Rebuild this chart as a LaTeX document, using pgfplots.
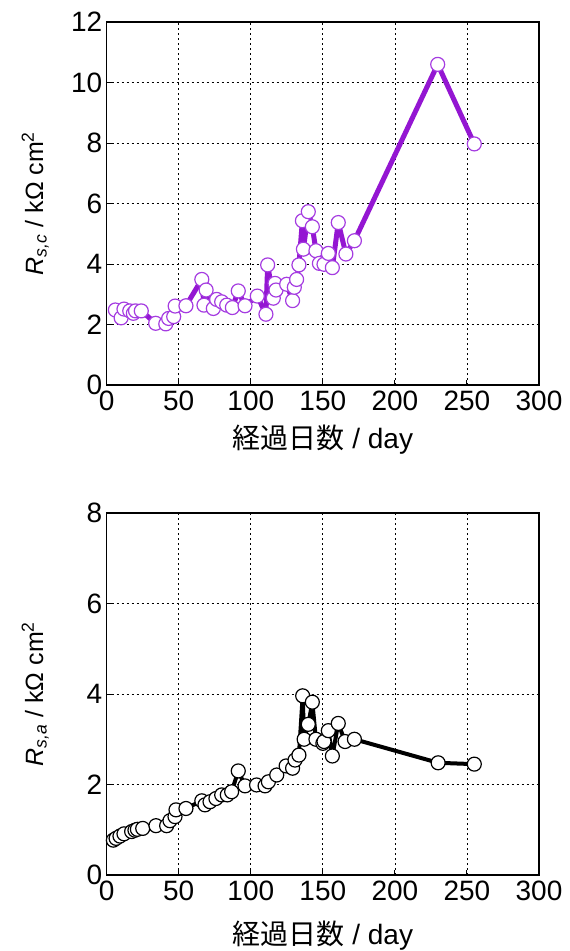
\documentclass[border=0pt]{standalone}
\usepackage{fontspec}
\setmainfont{Liberation Sans}
\newfontfamily\jp{Noto Sans CJK JP}
\usepackage{pgfplots}
\pgfplotsset{compat=1.18}

\definecolor{vline}{RGB}{148,22,210}
\definecolor{vmark}{RGB}{165,60,225}

\pgfplotsset{myax/.style={
  scale only axis, width=432.3pt,
  xmin=0, xmax=300, xtick={0,50,...,300},
  grid=major,
  major grid style={black, line width=0.8pt, dash pattern=on 2.5pt off 2.5pt},
  axis line style={line width=1.3pt},
  tick style={black, line width=1pt}, major tick length=5pt,
  tick align=inside, tick pos=left,
  font=\fontsize{28}{32}\selectfont,
  xticklabel style={yshift=-2pt},
  yticklabel style={xshift=-1pt},
  /pgf/number format/assume math mode=true,
  xlabel={{\jp 経過日数} / day},
}}

\begin{document}
\begin{tikzpicture}
\useasboundingbox (0,0) rectangle (570pt,-951pt);

\begin{axis}[myax, at={(106.7pt,-385pt)}, anchor=south west,
  height=363pt, ymin=0, ymax=12, ytick={0,2,...,12},
  xlabel style={at={(axis description cs:0.5,-0.1515)}, anchor=center},
  ylabel style={at={(axis description cs:-0.165,0.5)}, anchor=center, font=\fontsize{25}{30}\selectfont},
  ylabel={{\itshape R}\textsubscript{\itshape s,c} / kΩ cm\textsuperscript{2}}]
\addplot[vline, line width=5pt, line join=round, mark=*, mark size=7pt,
  mark options={fill=white, draw=vmark, line width=1.2pt, solid}] coordinates {
(6,2.48) (10,2.22) (12,2.51) (16,2.45) (18.5,2.37) (20,2.45) (24,2.45)
(34,2.04) (41,2.02) (43,2.20) (46.5,2.26) (47.5,2.61) (55,2.62)
(66,3.49) (67.5,2.64) (69,3.14) (74,2.53) (76.3,2.83) (79.8,2.75)
(83.3,2.64) (87.2,2.56) (91.3,3.11) (96,2.62) (104.5,2.94)
(110.5,2.34) (111.7,3.97) (115.6,2.87) (116.8,3.36) (117.5,3.14)
(124.9,3.33) (129,2.79) (130.2,3.23) (131.8,3.49) (133.4,3.97)
(135.8,5.43) (136.5,4.49) (139.9,5.73) (142.7,5.23) (145.2,4.44)
(147.6,4.02) (150.8,3.99) (153.8,4.35) (156.6,3.88) (160.7,5.37)
(166,4.33) (171.9,4.77) (229.7,10.6) (255.1,7.97)
};
\end{axis}

\begin{axis}[myax, at={(106.7pt,-875pt)}, anchor=south west,
  height=362pt, ymin=0, ymax=8, ytick={0,2,...,8},
  xlabel style={at={(axis description cs:0.5,-0.1685)}, anchor=center},
  ylabel style={at={(axis description cs:-0.165,0.5)}, anchor=center, font=\fontsize{25}{30}\selectfont},
  ylabel={{\itshape R}\textsubscript{\itshape s,a} / kΩ cm\textsuperscript{2}}]
\addplot[black, line width=4pt, line join=round, mark=*, mark size=7pt,
  mark options={fill=white, draw=black, line width=1.2pt, solid}] coordinates {
(4.6,0.77) (6.5,0.81) (9.2,0.86) (12,0.91) (17.3,0.96) (19.6,0.99)
(21.3,1.01) (25,1.03) (34.2,1.09) (41.6,1.09) (43.9,1.20) (47.4,1.29)
(48.1,1.44) (55,1.47) (66,1.64) (68.2,1.55) (71.7,1.62) (75.8,1.69)
(79.8,1.77) (83.7,1.77) (86.7,1.84) (91.3,2.30) (96,1.97) (104,1.99)
(109.9,1.97) (112.2,2.06) (118,2.21) (124.5,2.41) (129,2.36)
(130.7,2.54) (133.4,2.65) (136,3.96) (137,3.00) (139.9,3.33)
(142.7,3.82) (145.2,3.00) (150,2.91) (150.8,2.95) (153.8,3.19)
(156.6,2.63) (160.7,3.35) (165.4,2.95) (171.9,3.00) (230,2.48)
(255.1,2.45)
};
\end{axis}
\end{tikzpicture}
\end{document}
